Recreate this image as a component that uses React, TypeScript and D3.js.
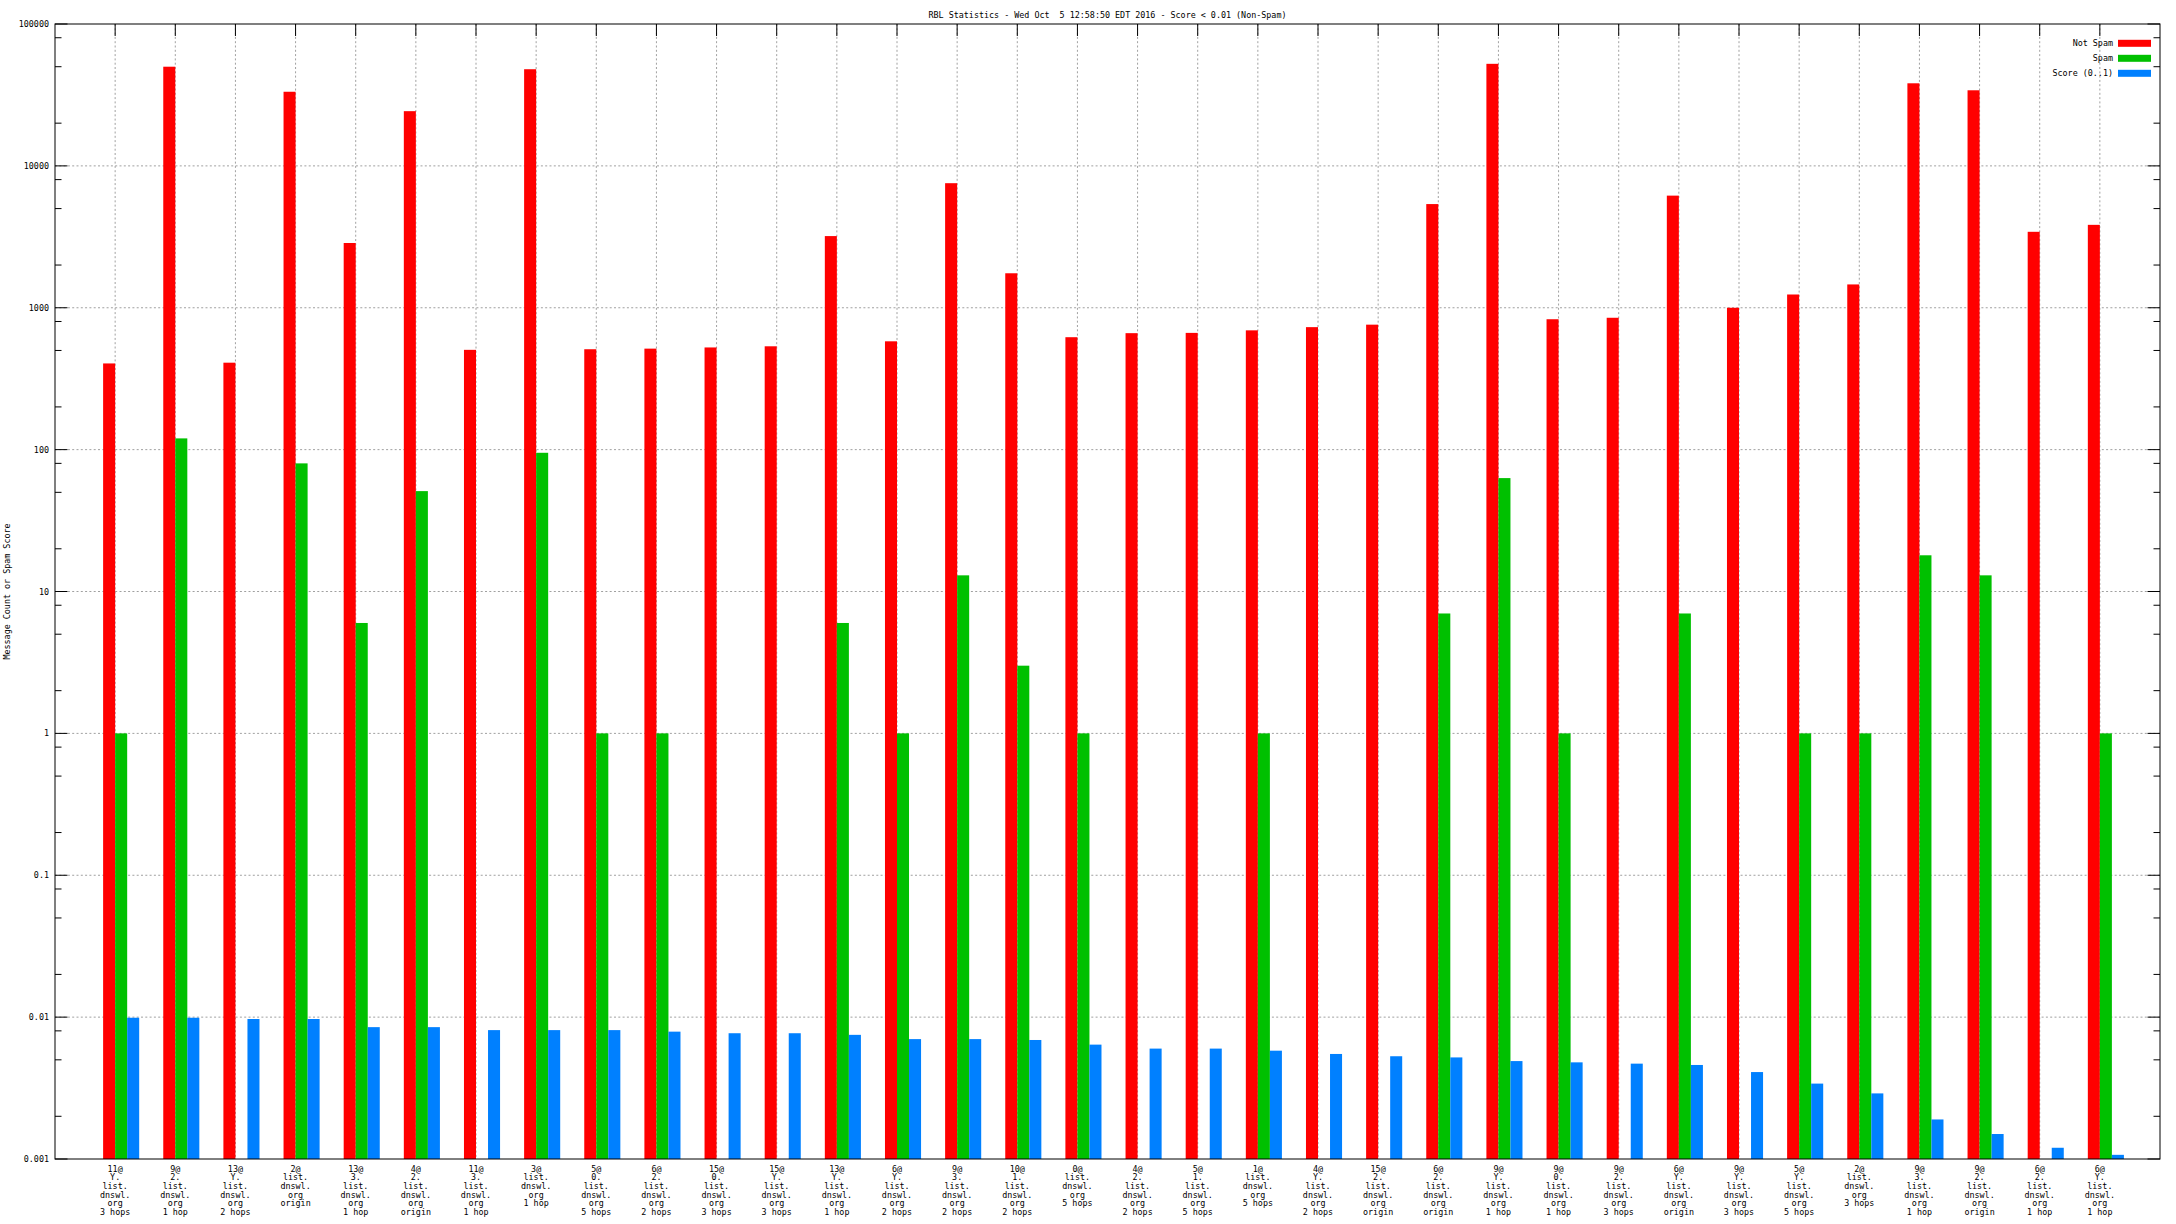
import React from "react";
import * as d3 from "d3";

const TITLE = "RBL Statistics - Wed Oct  5 12:58:50 EDT 2016 - Score < 0.01 (Non-Spam)";
const Y_LABEL = "Message Count or Spam Score";

const categories: string[] = [
  "11@\nY.\nlist.\ndnswl.\norg\n3 hops",
  "9@\n2.\nlist.\ndnswl.\norg\n1 hop",
  "13@\nY.\nlist.\ndnswl.\norg\n2 hops",
  "2@\nlist.\ndnswl.\norg\norigin",
  "13@\n3.\nlist.\ndnswl.\norg\n1 hop",
  "4@\n2.\nlist.\ndnswl.\norg\norigin",
  "11@\n3.\nlist.\ndnswl.\norg\n1 hop",
  "3@\nlist.\ndnswl.\norg\n1 hop",
  "5@\n0.\nlist.\ndnswl.\norg\n5 hops",
  "6@\n2.\nlist.\ndnswl.\norg\n2 hops",
  "15@\n0.\nlist.\ndnswl.\norg\n3 hops",
  "15@\nY.\nlist.\ndnswl.\norg\n3 hops",
  "13@\nY.\nlist.\ndnswl.\norg\n1 hop",
  "6@\nY.\nlist.\ndnswl.\norg\n2 hops",
  "9@\n3.\nlist.\ndnswl.\norg\n2 hops",
  "10@\n1.\nlist.\ndnswl.\norg\n2 hops",
  "0@\nlist.\ndnswl.\norg\n5 hops",
  "4@\n2.\nlist.\ndnswl.\norg\n2 hops",
  "5@\n1.\nlist.\ndnswl.\norg\n5 hops",
  "1@\nlist.\ndnswl.\norg\n5 hops",
  "4@\nY.\nlist.\ndnswl.\norg\n2 hops",
  "15@\n2.\nlist.\ndnswl.\norg\norigin",
  "6@\n2.\nlist.\ndnswl.\norg\norigin",
  "9@\nY.\nlist.\ndnswl.\norg\n1 hop",
  "9@\n0.\nlist.\ndnswl.\norg\n1 hop",
  "9@\n2.\nlist.\ndnswl.\norg\n3 hops",
  "6@\nY.\nlist.\ndnswl.\norg\norigin",
  "9@\nY.\nlist.\ndnswl.\norg\n3 hops",
  "5@\nY.\nlist.\ndnswl.\norg\n5 hops",
  "2@\nlist.\ndnswl.\norg\n3 hops",
  "9@\n3.\nlist.\ndnswl.\norg\n1 hop",
  "9@\n2.\nlist.\ndnswl.\norg\norigin",
  "6@\n2.\nlist.\ndnswl.\norg\n1 hop",
  "6@\nY.\nlist.\ndnswl.\norg\n1 hop",
];

const notSpam: number[] = [
  405, 50000, 410, 33300, 2860, 24300, 505, 48000, 510, 515,
  525, 535, 3200, 580, 7550, 1750, 620, 662, 665, 693,
  730, 760, 5380, 52400, 830, 850, 6170, 1000, 1240, 1460,
  38200, 34100, 3430, 3840,
];

const spam: (number | null)[] = [
  1, 120, null, 80, 6, 51, null, 95, 1, 1,
  null, null, 6, 1, 13, 3, 1, null, null, 1,
  null, null, 7, 63, 1, null, 7, null, 1, 1,
  18, 13, null, 1,
];

const score: number[] = [
  0.0099, 0.0099, 0.0097, 0.0097, 0.0085, 0.0085, 0.0081, 0.0081, 0.0081, 0.0079,
  0.0077, 0.0077, 0.0075, 0.0070, 0.0070, 0.0069, 0.0064, 0.0060, 0.0060, 0.0058,
  0.0055, 0.0053, 0.0052, 0.0049, 0.0048, 0.0047, 0.0046, 0.0041, 0.0034, 0.0029,
  0.0019, 0.0015, 0.0012, 0.00107,
];

const yTickValues: number[] = [0.001, 0.01, 0.1, 1, 10, 100, 1000, 10000, 100000];
const yTickLabels: string[] = ["0.001", "0.01", "0.1", "1", "10", "100", "1000", "10000", "100000"];
const minorMultipliers: number[] = [2, 5, 8];

const seriesNames: string[] = ["Not Spam", "Spam", "Score (0..1)"];
const seriesColors: string[] = ["#ff0000", "#00c000", "#0080ff"];

const W = 2176;
const H = 1224;
const L = 55;
const R = 2160;
const T = 24;
const B = 1159;
const FONT = "'DejaVu Sans Mono', monospace";
const FS = 8.4;

export default function App() {
  const n = categories.length;
  const x = d3.scaleLinear().domain([-1, n]).range([L, R]);
  const y = d3.scaleLog().domain([0.001, 100000]).range([B, T]);
  const bw = x(0.2) - x(0);
  const series: (number | null)[][] = [notSpam, spam, score];
  const offsets = [-0.2, 0, 0.2];

  const minorTicks: number[] = [];
  for (let i = 0; i < yTickValues.length - 1; i++) {
    for (const m of minorMultipliers) minorTicks.push(yTickValues[i] * m);
  }

  return (
    <svg
      width={W}
      height={H}
      style={{ position: "absolute", left: 0, top: 0, background: "#fff" }}
      fontFamily={FONT}
      fontSize={FS}
    >
      <rect x={0} y={0} width={W} height={H} fill="#fff" />
      {/* grid */}
      {yTickValues.slice(1, -1).map((v, i) => (
        <line key={"hg" + i} x1={L} x2={R} y1={y(v)} y2={y(v)} stroke="#a0a0a0" strokeDasharray="2,2.3" />
      ))}
      {categories.map((_, i) => (
        <line key={"vg" + i} x1={x(i)} x2={x(i)} y1={T} y2={B} stroke="#a0a0a0" strokeDasharray="2,2.3" />
      ))}
      {/* bars */}
      {series.map((s, si) =>
        s.map((v, i) =>
          v == null ? null : (
            <rect
              key={`b${si}-${i}`}
              x={x(i + offsets[si])}
              width={bw}
              y={y(v)}
              height={y(0.001) - y(v)}
              fill={seriesColors[si]}
            />
          )
        )
      )}
      {/* border */}
      <rect x={L} y={T} width={R - L} height={B - T} fill="none" stroke="#000" strokeWidth={1} />
      {/* y ticks */}
      {yTickValues.map((v, i) => (
        <g key={"yt" + i}>
          <line x1={L} x2={L + 12.5} y1={y(v)} y2={y(v)} stroke="#000" />
          <line x1={R} x2={R - 12.5} y1={y(v)} y2={y(v)} stroke="#000" />
          <text x={49} y={y(v)} textAnchor="end" dominantBaseline="central">
            {yTickLabels[i]}
          </text>
        </g>
      ))}
      {minorTicks.map((v, i) => (
        <g key={"ym" + i}>
          <line x1={L} x2={L + 6.5} y1={y(v)} y2={y(v)} stroke="#000" />
          <line x1={R} x2={R - 6.5} y1={y(v)} y2={y(v)} stroke="#000" />
        </g>
      ))}
      {/* x ticks on top */}
      {categories.map((_, i) => (
        <line key={"xt" + i} x1={x(i)} x2={x(i)} y1={T} y2={T + 12} stroke="#000" />
      ))}
      {/* x labels */}
      {categories.map((c, i) => (
        <text key={"xl" + i} x={x(i)} textAnchor="middle" dominantBaseline="central">
          {c.split("\n").map((line, li) => (
            <tspan key={li} x={x(i)} y={1168.6 + li * 8.7}>
              {line}
            </tspan>
          ))}
        </text>
      ))}
      {/* title */}
      <text x={(L + R) / 2} y={14.7} textAnchor="middle" dominantBaseline="central" style={{ whiteSpace: "pre" }}>
        {TITLE}
      </text>
      {/* y label */}
      <text
        transform={`translate(6.5, ${(T + B) / 2}) rotate(-90)`}
        textAnchor="middle"
        dominantBaseline="central"
      >
        {Y_LABEL}
      </text>
      {/* legend */}
      {seriesNames.map((name, i) => (
        <g key={"lg" + i}>
          <text x={2113} y={43.3 + i * 15} textAnchor="end" dominantBaseline="central" style={{ whiteSpace: "pre" }}>
            {name}
          </text>
          <rect x={2118} y={43.3 + i * 15 - 3.5} width={33} height={7} fill={seriesColors[i]} />
        </g>
      ))}
    </svg>
  );
}
